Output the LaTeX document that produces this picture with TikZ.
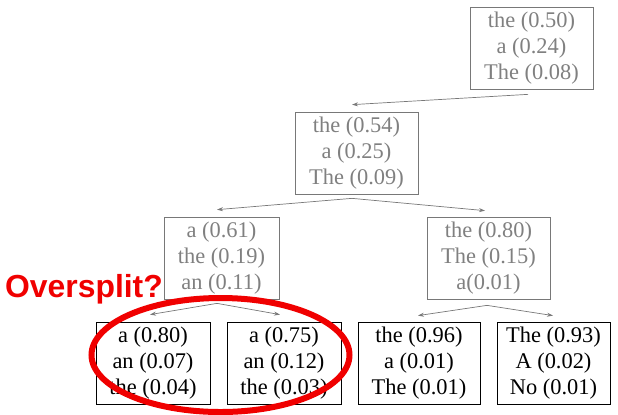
\documentclass[tikz,border=0pt]{standalone}
\usepackage{fontspec}
\setmainfont{Liberation Serif}
\newfontfamily\boxserif{Liberation Serif}
\newfontfamily\labelsans{Liberation Sans}
\usetikzlibrary{arrows.meta,calc}
\definecolor{softgray}{RGB}{128,128,128}
\definecolor{linegray}{RGB}{120,120,120}
\definecolor{markred}{RGB}{240,0,0}
\tikzset{
  dist/.style={draw, rectangle, align=center, inner sep=0pt,
    font=\boxserif\fontsize{22.5}{26}\selectfont},
  faded/.style={dist, draw=linegray, text=softgray, line width=0.7bp},
  solidbox/.style={dist, draw=black, text=black, line width=0.8bp},
  link/.style={draw=linegray, line width=0.7bp, -{Stealth[length=6bp,width=4bp]}},
}
\begin{document}
\begin{tikzpicture}[x=1bp,y=-1bp]
\useasboundingbox (0,0) rectangle (618,414);
\node[faded, minimum width=123bp, minimum height=82bp] (top) at (531.5,48) {the (0.50)\\a (0.24)\\The (0.08)};
\node[faded, minimum width=123bp, minimum height=82bp] (mid) at (356.5,153) {the (0.54)\\a (0.25)\\The (0.09)};
\node[faded, minimum width=115bp, minimum height=82bp] (l3a) at (221.5,258) {a (0.61)\\the (0.19)\\an (0.11)};
\node[faded, minimum width=123bp, minimum height=82bp] (l3b) at (488.5,258) {the (0.80)\\The (0.15)\\a(0.01)};
\node[solidbox, minimum width=114bp, minimum height=82bp] (b1) at (153,363) {a (0.80)\\an (0.07)\\the (0.04)};
\node[solidbox, minimum width=114bp, minimum height=82bp] (b2) at (284,363) {a (0.75)\\an (0.12)\\the (0.03)};
\node[solidbox, minimum width=122bp, minimum height=82bp] (b3) at (419,363) {the (0.96)\\a (0.01)\\The (0.01)};
\node[solidbox, minimum width=113bp, minimum height=82bp] (b4) at (553.5,363) {The (0.93)\\A (0.02)\\No (0.01)};
% connector coordinates
\coordinate (ctop) at ($(top.south)+(-3.5,5)$);
\coordinate (cmid) at ($(mid.south)+(-4.5,4)$);
\coordinate (cl3a) at ($(l3a.south)+(-4.5,4)$);
\coordinate (cl3b) at ($(l3b.south)+(-1.5,6)$);
\draw[link] (ctop) -- ($(mid.north)+(-4.5,-7)$);
\draw[link] (cmid) -- ($(l3a.north)+(-4.5,-7)$);
\draw[link] (cmid) -- ($(l3b.north)+(-3.5,-6)$);
\draw[link] (cl3a) -- ($(b1.north)+(-3,-7)$);
\draw[link] (cl3a) -- ($(b2.north)+(-4,-7)$);
\draw[link] (cl3b) -- ($(b3.north)+(-1,-6)$);
\draw[link] (cl3b) -- ($(b4.north)+(-0.5,-6)$);
% annotation
\node[text=markred, font=\labelsans\bfseries\fontsize{32}{32}\selectfont, inner sep=0pt] (over) at (84,289) {Oversplit?};
\draw[markred, line width=6bp] (220.5,355) ellipse [x radius=129, y radius=57];
\end{tikzpicture}
\end{document}
